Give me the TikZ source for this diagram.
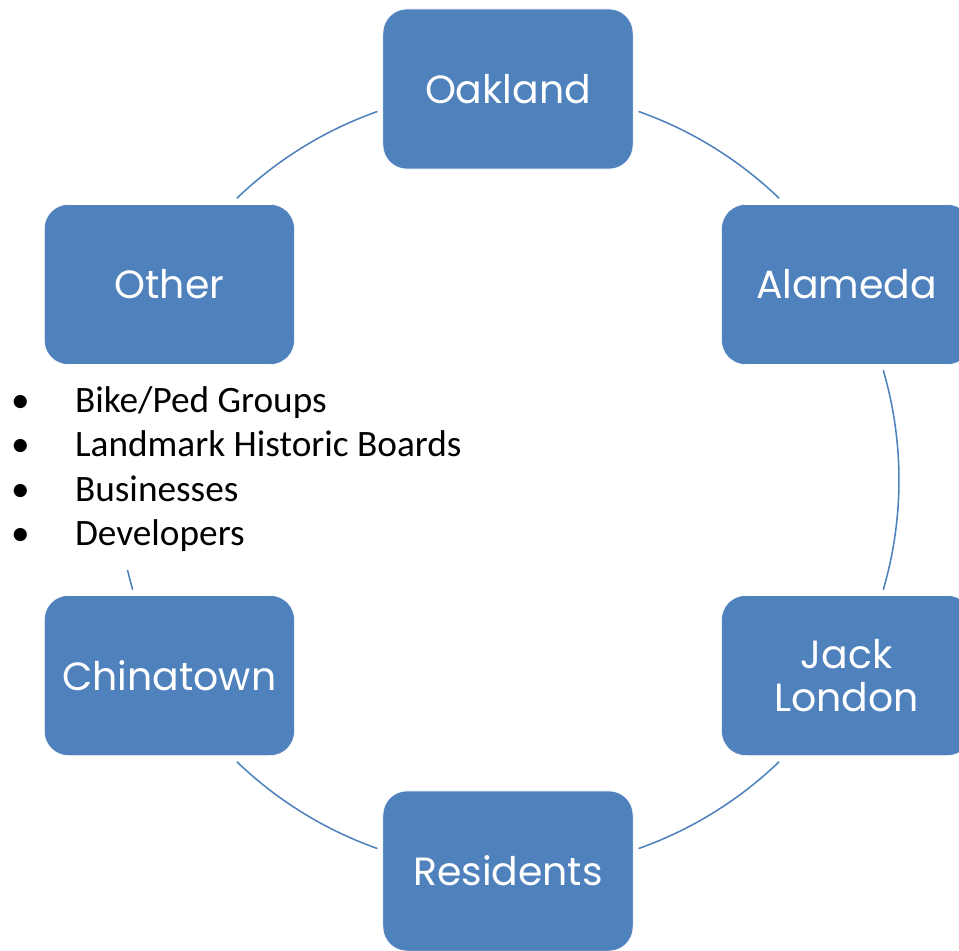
\documentclass[tikz,border=0pt]{standalone}
\usepackage{fontspec}
\setmainfont{Carlito}
\newfontfamily\gothic{Poppins}
\definecolor{smartblue}{HTML}{4F81BD}

\begin{document}
\begin{tikzpicture}[x=0.025cm, y=0.025cm,
  place node/.style={draw=white, line width=0.4pt, fill=smartblue, rounded corners=0.6cm,
    minimum width=6.25cm, minimum height=4cm, text=white, align=center,
    font=\gothic\fontsize{28}{31}\selectfont},
  link/.style={draw=smartblue, line width=1.1pt},
  list node/.style={fill=white, align=left, inner xsep=2pt, inner ysep=13pt,
    font=\fontsize{26.5}{31.6}\selectfont}]

\useasboundingbox (-508,-470) rectangle (451,480);

% ring between the boxes
\foreach \a/\b/\n in {70.5/46.1/oa, 16.3/-16.3/aj, -46.1/-70.5/jr,
                      -109.5/-133.9/rc, -163.7/-196.3/co, 133.9/109.5/ob}
{
  \coordinate (\n) at (\a:391);
  \draw[link] (\n) arc[start angle=\a, end angle=\b, radius=391];
}

\node[place node] (oakland)   at (90:391)  {Oakland};
\node[place node] (alameda)   at (30:391)  {Alameda};
\node[place node] (jack)      at (-30:391) {Jack\\London};
\node[place node] (residents) at (-90:391) {Residents};
\node[place node] (chinatown) at (210:391) {Chinatown};
\node[place node] (other)     at (150:391) {Other};

\node[list node, anchor=north west] (list) at (-500,112)
  {\makebox[1.6cm][l]{\textbullet}Bike/Ped Groups\\
   \makebox[1.6cm][l]{\textbullet}Landmark Historic Boards\\
   \makebox[1.6cm][l]{\textbullet}Businesses\\
   \makebox[1.6cm][l]{\textbullet}Developers};
\end{tikzpicture}
\end{document}
